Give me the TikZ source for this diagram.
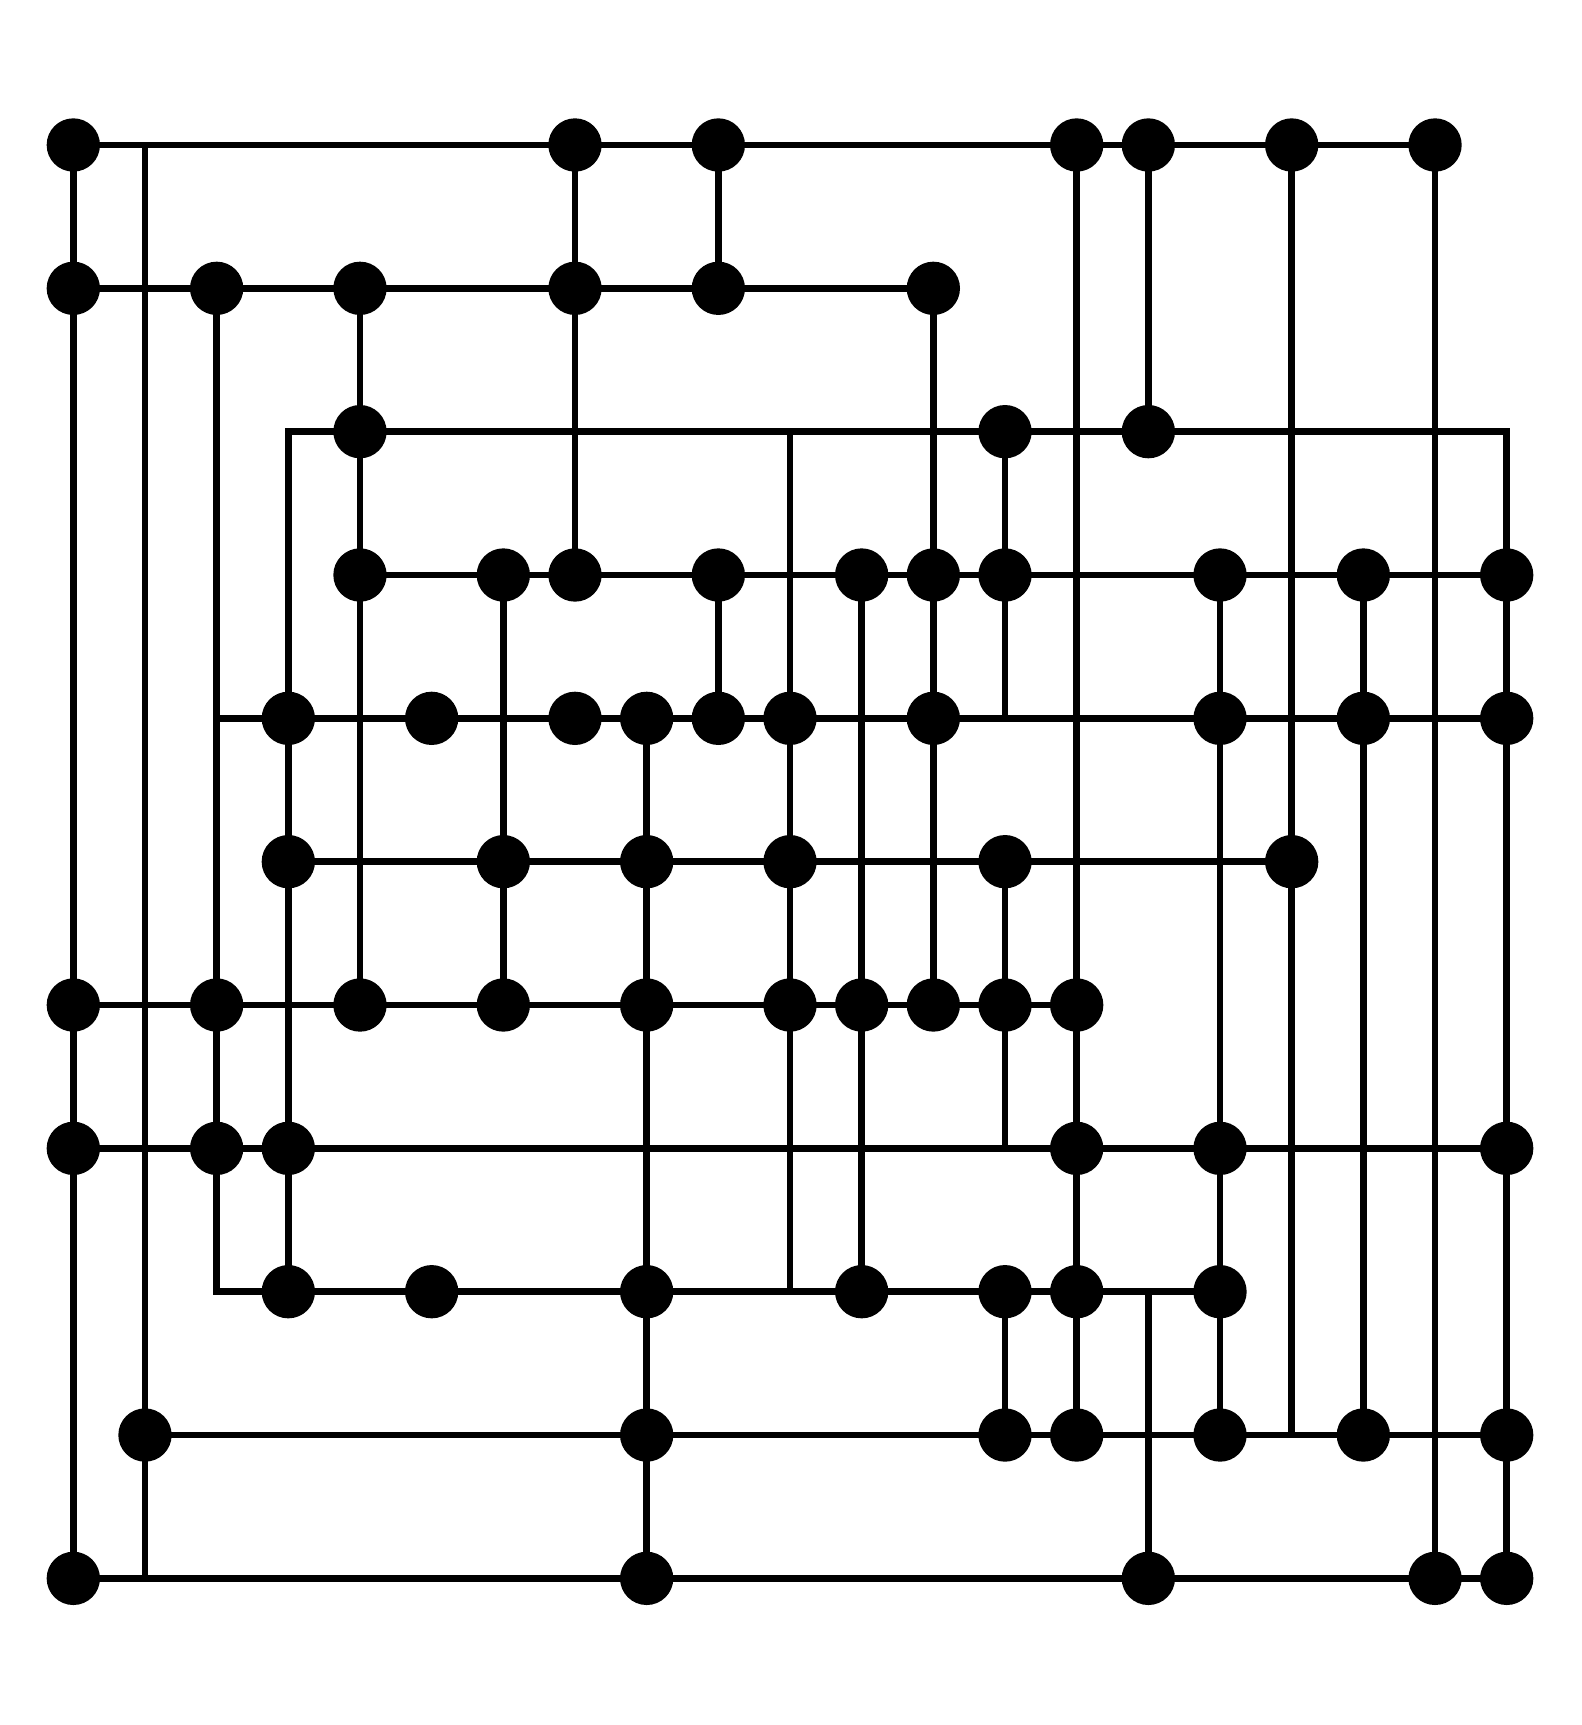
\documentclass[tikz,border=0pt]{standalone}
\usetikzlibrary{backgrounds}
\tikzset{
  dot/.style={circle,fill=black,draw=none,minimum size=0.744cm,inner sep=0pt,outer sep=0pt},
  wire/.style={line width=2.7pt,black}
}
\begin{document}
\begin{tikzpicture}
\useasboundingbox (-1.023,2.023) rectangle (21.037,-22.046);
% dots
\foreach \r/\cols in {0/{0,7,9,14,15,17,19},
                      1/{0,2,4,7,9,12},
                      2/{4,13,15},
                      3/{4,6,7,9,11,12,13,16,18,20},
                      4/{3,5,7,8,9,10,12,16,18,20},
                      5/{3,6,8,10,13,17},
                      6/{0,2,4,6,8,10,11,12,13,14},
                      7/{0,2,3,14,16,20},
                      8/{3,5,8,11,13,14,16},
                      9/{1,8,13,14,16,18,20},
                      10/{0,8,15,19,20}}{
  \foreach \c in \cols {
    \node[dot] (d\c-\r) at (\c,-2*\r) {};
  }
}
% free ends and corners
\coordinate (k1-0) at (1,0);
\coordinate (k1-10) at (1,-20);
\coordinate (k3-2) at (3,-4);
\coordinate (k20-2) at (20,-4);
\coordinate (k2-4) at (2,-8);
\coordinate (k2-8) at (2,-16);
\coordinate (k10-2) at (10,-4);
\coordinate (k10-8) at (10,-16);
\coordinate (k13-4) at (13,-8);
\coordinate (k13-7) at (13,-14);
\coordinate (k15-8) at (15,-16);
\coordinate (k17-9) at (17,-18);
\begin{pgfonlayer}{background}
% horizontal runs
\draw[wire] (d0-0.center) -- (d19-0.center);
\draw[wire] (d0-1.center) -- (d12-1.center);
\draw[wire] (d3-8.center) -- (k3-2) -- (k20-2) -- (d20-10.center);
\draw[wire] (d4-3.center) -- (d20-3.center);
\draw[wire] (k2-4) -- (d20-4.center);
\draw[wire] (d3-5.center) -- (d17-5.center);
\draw[wire] (d0-6.center) -- (d14-6.center);
\draw[wire] (d0-7.center) -- (d20-7.center);
\draw[wire] (d2-1.center) -- (k2-8) -- (d16-8.center);
\draw[wire] (d1-9.center) -- (d20-9.center);
\draw[wire] (d0-10.center) -- (d20-10.center);
% vertical runs
\draw[wire] (d0-0.center) -- (d0-10.center);
\draw[wire] (k1-0) -- (k1-10);
\draw[wire] (d4-1.center) -- (d4-6.center);
\draw[wire] (d6-3.center) -- (d6-6.center);
\draw[wire] (d7-0.center) -- (d7-3.center);
\draw[wire] (d8-4.center) -- (d8-10.center);
\draw[wire] (d9-0.center) -- (d9-1.center);
\draw[wire] (d9-3.center) -- (d9-4.center);
\draw[wire] (k10-2) -- (k10-8);
\draw[wire] (d11-3.center) -- (d11-8.center);
\draw[wire] (d12-1.center) -- (d12-6.center);
\draw[wire] (d13-2.center) -- (k13-4);
\draw[wire] (d13-5.center) -- (k13-7);
\draw[wire] (d13-8.center) -- (d13-9.center);
\draw[wire] (d14-0.center) -- (d14-9.center);
\draw[wire] (d15-0.center) -- (d15-2.center);
\draw[wire] (k15-8) -- (d15-10.center);
\draw[wire] (d16-3.center) -- (d16-9.center);
\draw[wire] (d17-0.center) -- (k17-9);
\draw[wire] (d18-3.center) -- (d18-9.center);
\draw[wire] (d19-0.center) -- (d19-10.center);
\end{pgfonlayer}
\end{tikzpicture}
\end{document}
